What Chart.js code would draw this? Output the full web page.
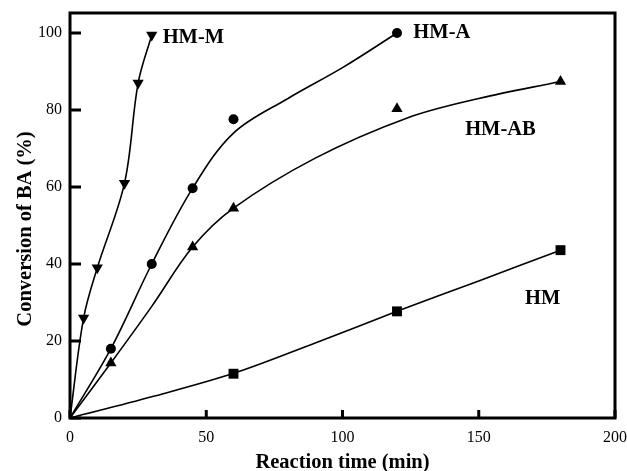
<!DOCTYPE html>
<html>
<head>
<meta charset="utf-8">
<script src="https://cdn.jsdelivr.net/npm/chart.js@4.4.1/dist/chart.umd.min.js"></script>
<style>
  body { margin: 0; background: #fff; }
</style>
</head>
<body>
<canvas id="myChart" width="627" height="471"></canvas>
<script>
// measured points (min, %)
var hmmTime = [5, 10, 20, 25, 30];
var hmmConv = [26, 39, 61, 87, 99.5];
var hmaTime = [15, 30, 45, 60, 120];
var hmaConv = [18, 40, 59.7, 77.6, 100];
var hmabTime = [15, 45, 60, 120, 180];
var hmabConv = [14.3, 44.4, 54.5, 80.3, 87.4];
var hmTime = [60, 120, 180];
var hmConv = [11.5, 27.7, 43.6];

// fitted curves
var hmmFitTime = [0, 5, 10, 20, 25, 30];
var hmmFitConv = [0, 26, 39, 61, 87, 99.5];
var hmaFitTime = [0, 15, 30, 45, 60, 80, 100, 120];
var hmaFitConv = [0, 18, 40, 59.7, 74, 83, 91, 100];
var hmabFitTime = [0, 15, 30, 45, 60, 90, 124, 150, 180];
var hmabFitConv = [0, 14.3, 29, 44.4, 54.5, 67.5, 78, 83, 87.4];
var hmFitTime = [0, 30, 60, 90, 120, 150, 180];
var hmFitConv = [0, 5.5, 11.6, 19.5, 27.7, 35.6, 43.6];

var xTicks = [0, 50, 100, 150, 200];
var yTicks = [0, 20, 40, 60, 80, 100];

var seriesNames = ["HM-M", "HM-A", "HM-AB", "HM"];
var labelTime = [34, 126, 145, 167];
var labelConv = [98.8, 100, 74.8, 31];

var xTitle = "Reaction time (min)";
var yTitle = "Conversion of BA (%)";

function toPoints(xs, ys) {
  return xs.map(function (v, i) { return { x: v, y: ys[i] }; });
}

function fitLine(xs, ys) {
  return {
    data: toPoints(xs, ys),
    showLine: true,
    borderColor: "#000",
    borderWidth: 1.6,
    pointRadius: 0,
    tension: 0.35,
    fill: false
  };
}

function markers(xs, ys, style, rot, r) {
  return {
    data: toPoints(xs, ys),
    showLine: false,
    pointStyle: style,
    pointRotation: rot,
    pointRadius: r,
    backgroundColor: "#000",
    borderColor: "#000",
    borderWidth: 0
  };
}

var serif = "'Liberation Serif', 'DejaVu Serif', serif";

// frame, inward ticks, axis titles and curve names
var framePlugin = {
  id: "frame",
  afterDraw: function (chart) {
    var ctx = chart.ctx;
    var a = chart.chartArea;
    var x = chart.scales.x;
    var y = chart.scales.y;
    ctx.save();
    ctx.strokeStyle = "#000";
    ctx.lineWidth = 3;
    ctx.strokeRect(a.left, a.top, a.right - a.left, a.bottom - a.top);
    ctx.beginPath();
    xTicks.forEach(function (v) {
      var px = x.getPixelForValue(v);
      ctx.moveTo(px, a.bottom);
      ctx.lineTo(px, a.bottom - 8);
    });
    yTicks.forEach(function (v) {
      var py = y.getPixelForValue(v);
      ctx.moveTo(a.left, py);
      ctx.lineTo(a.left + 11, py);
    });
    ctx.stroke();

    ctx.fillStyle = "#000";
    ctx.font = "bold 20.5px " + serif;
    ctx.textAlign = "left";
    ctx.textBaseline = "middle";
    seriesNames.forEach(function (n, i) {
      ctx.fillText(n, x.getPixelForValue(labelTime[i]), y.getPixelForValue(labelConv[i]));
    });

    ctx.font = "bold 20.5px " + serif;
    ctx.textAlign = "center";
    ctx.textBaseline = "alphabetic";
    ctx.fillText(xTitle, (a.left + a.right) / 2, 468);

    ctx.translate(31, 229);
    ctx.rotate(-Math.PI / 2);
    ctx.fillText(yTitle, 0, 0);
    ctx.restore();
  }
};

new Chart("myChart", {
  type: "scatter",
  data: {
    datasets: [
      fitLine(hmmFitTime, hmmFitConv),
      fitLine(hmaFitTime, hmaFitConv),
      fitLine(hmabFitTime, hmabFitConv),
      fitLine(hmFitTime, hmFitConv),
      markers(hmmTime, hmmConv, "triangle", 180, 6.5),
      markers(hmaTime, hmaConv, "circle", 0, 5),
      markers(hmabTime, hmabConv, "triangle", 0, 6.5),
      markers(hmTime, hmConv, "rect", 0, 7)
    ]
  },
  options: {
    responsive: false,
    animation: false,
    layout: { padding: { top: 13, right: 12, left: 0, bottom: 0 } },
    plugins: {
      legend: { display: false },
      tooltip: { enabled: false }
    },
    scales: {
      x: {
        type: "linear",
        min: 0,
        max: 200,
        afterBuildTicks: function (scale) {
          scale.ticks = xTicks.map(function (v) { return { value: v }; });
        },
        afterFit: function (scale) {
          scale.height = 53;
          scale.paddingLeft = 0;
          scale.paddingRight = 0;
        },
        grid: { display: false, drawTicks: false },
        border: { display: false },
        ticks: {
          color: "#000",
          padding: 10,
          maxRotation: 0,
          font: { family: serif, size: 16 }
        }
      },
      y: {
        type: "linear",
        min: 0,
        max: 105.2,
        afterBuildTicks: function (scale) {
          scale.ticks = yTicks.map(function (v) { return { value: v }; });
        },
        afterFit: function (scale) {
          scale.width = 70;
          scale.paddingTop = 0;
          scale.paddingBottom = 0;
        },
        grid: { display: false, drawTicks: false },
        border: { display: false },
        ticks: {
          color: "#000",
          padding: 8,
          font: { family: serif, size: 16 }
        }
      }
    }
  },
  plugins: [framePlugin]
});
</script>
</body>
</html>
